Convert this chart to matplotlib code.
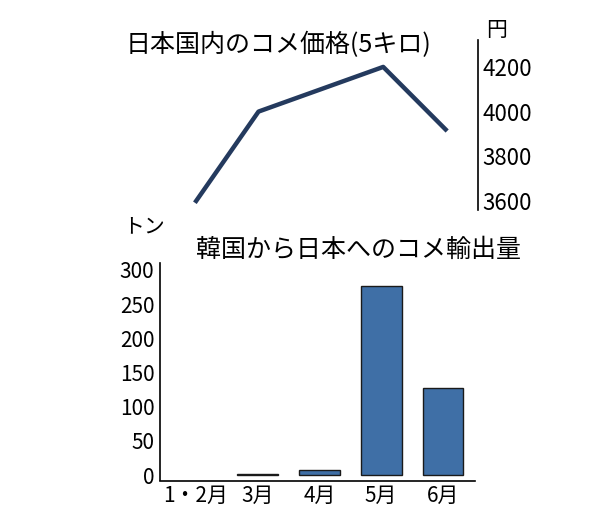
import matplotlib
matplotlib.use("Agg")
import matplotlib.pyplot as plt

plt.rcParams['font.family'] = ['Noto Sans CJK JP', 'DejaVu Sans']

months = ["1・2月", "3月", "4月", "5月", "6月"]
price = [3600, 4000, 4100, 4200, 3920]
exports = [0, 2, 8, 277, 127]
price_ticks = [3600, 3800, 4000, 4200]
export_ticks = [0, 50, 100, 150, 200, 250, 300]

W, H = 600, 521
fig = plt.figure(figsize=(6, 5.21), dpi=100)
x = list(range(len(months)))
xl = (-0.58, 4.52)

# bottom bar chart
axb = fig.add_axes([160/W, 1-480.5/H, 315/W, 217.5/H])
bars = axb.bar(x, exports, width=0.66, color="#3f6fa6", edgecolor="#1a1a1a", linewidth=1)
for b, v in zip(bars, exports):
    if v == 0:
        b.set_visible(False)
axb.set_xlim(*xl)
axb.set_ylim(-8, 310)
axb.set_xticks(x)
axb.set_xticklabels(months, fontsize=15)
axb.set_yticks(export_ticks)
axb.tick_params(axis='y', labelsize=15, length=0, pad=4)
axb.tick_params(axis='x', length=0, pad=3)
for s in ["top", "right"]:
    axb.spines[s].set_visible(False)
axb.spines["left"].set_linewidth(1.2)
axb.spines["bottom"].set_linewidth(1.2)

# top line chart
axt = fig.add_axes([160/W, 1-215/H, 318/W, 195/H])
axt.plot(x, price, color="#243a5e", linewidth=3.2)
axt.set_xlim(*xl)
axt.set_ylim(3537, 4410)
axt.set_xticks([])
axt.yaxis.tick_right()
axt.set_yticks(price_ticks)
axt.tick_params(axis='y', labelsize=16, length=0, pad=3)
for s in ["top", "left", "bottom"]:
    axt.spines[s].set_visible(False)
axt.spines["right"].set_linewidth(1.2)
axt.spines["right"].set_bounds(3560, 4320)
axt.patch.set_alpha(0)

fig.text(126/W, 1-45/H, "日本国内のコメ価格(5キロ)", fontsize=18, va="center", ha="left")
fig.text(497/W, 1-30/H, "円", fontsize=15, va="center", ha="center")
fig.text(123/W, 1-226/H, "トン", fontsize=15, va="center", ha="left")
fig.text(196/W, 1-250/H, "韓国から日本へのコメ輸出量", fontsize=18, va="center", ha="left")

fig.savefig("out.png", dpi=100)
